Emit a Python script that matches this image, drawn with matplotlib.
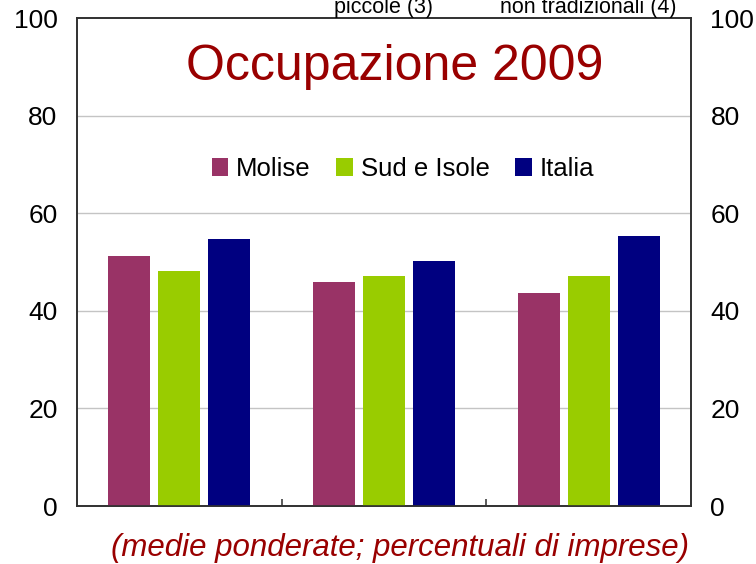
import numpy as np
import matplotlib
matplotlib.use("Agg")
import matplotlib.pyplot as plt
from matplotlib.patches import Patch

plt.rcParams['font.family'] = ['Liberation Sans', 'DejaVu Sans']

categories = ["", "piccole (3)", "non tradizionali (4)"]
series = ["Molise", "Sud e Isole", "Italia"]
molise = [51.2, 45.9, 43.6]
sud = [48.2, 47.1, 47.1]
italia = [54.7, 50.2, 55.3]
colors = ["#993366", "#99CC00", "#000080"]
yticks = [0, 20, 40, 60, 80, 100]

fig = plt.figure(figsize=(7.56, 5.64), dpi=100)
ax = fig.add_axes([77/756, 1-506/564, 614/756, 488/564])

x = np.arange(len(categories))
w = 0.205
step = 0.245
for i, (vals, c) in enumerate(zip([molise, sud, italia], colors)):
    ax.bar(x + (i-1)*step, vals, w, color=c, zorder=3)

ax.set_xlim(-0.5, len(categories)-0.5)
ax.set_ylim(0, 100)
ax.set_yticks(yticks)
ax.tick_params(axis='y', length=0, pad=14, labelsize=19)
for v in yticks[1:-1]:
    ax.axhline(v, color='#c4c4c4', lw=1, zorder=1)

# category separators on bottom axis, pointing inward
ax.set_xticks([0.5, 1.5])
ax.set_xticklabels([])
ax.tick_params(axis='x', direction='in', length=5, width=1.2, color='#404040')

for s in ax.spines.values():
    s.set_color('#303030')
    s.set_linewidth(1.2)

ax2 = ax.twinx()
ax2.set_ylim(0, 100)
ax2.set_yticks(yticks)
ax2.tick_params(axis='y', length=0, pad=14, labelsize=19)
for s in ax2.spines.values():
    s.set_color('#303030')
    s.set_linewidth(1.2)

# category labels at top (clipped by figure edge, as in the original)
for xi, lab in zip(x, categories):
    if lab:
        xf = ax.transData.transform((xi, 0))[0] / fig.bbox.width
        fig.text(xf, 1-12.5/564, lab, ha='center', va='baseline', fontsize=15.5)

ax.text(0.518, 1-(67-18)/488, "Occupazione 2009", transform=ax.transAxes, ha='center',
        va='center', fontsize=36, color='#990000')

handles = [Patch(facecolor=c, edgecolor='none') for c in colors]
ax.legend(handles, series, loc='center', bbox_to_anchor=(0.531, 1-(169-18)/488),
          ncol=3, frameon=False, fontsize=18.5, handlelength=0.65, handleheight=0.65,
          handletextpad=0.3, columnspacing=1.0)

fig.text(400/756, 1-548/564, "(medie ponderate; percentuali di imprese)",
         ha='center', va='center', fontsize=22.5, style='italic', color='#990000')

fig.savefig("out.png", dpi=100)
